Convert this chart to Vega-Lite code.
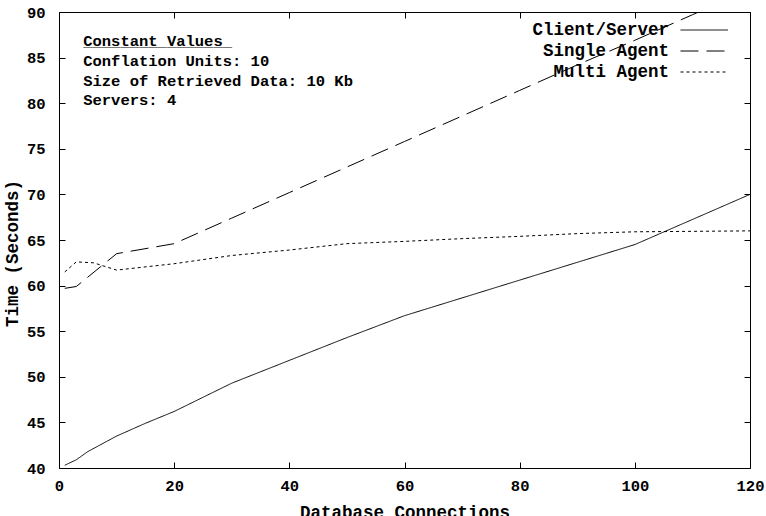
{
  "$schema": "https://vega.github.io/schema/vega-lite/v6.json",
  "width": 691,
  "height": 456,
  "autosize": "none",
  "padding": {"left": 59, "top": 12, "right": 16, "bottom": 48},
  "background": "white",
  "config": {
    "view": {"stroke": "black", "strokeWidth": 1},
    "font": "Liberation Mono",
    "axis": {
      "domain": false,
      "ticks": false,
      "zindex": 1,
      "labelFont": "Liberation Mono",
      "labelFontWeight": "bold",
      "labelFontSize": 15.5,
      "labelColor": "black",
      "labelFlush": false,
      "titleFont": "Liberation Mono",
      "titleFontWeight": "bold",
      "titleFontSize": 17.5,
      "titleColor": "black"
    }
  },
  "datasets": {
    "series": [
      {"series": "Client/Server", "x": 1, "y": 40.3},
      {"series": "Client/Server", "x": 3, "y": 40.9},
      {"series": "Client/Server", "x": 5, "y": 41.8},
      {"series": "Client/Server", "x": 10, "y": 43.5},
      {"series": "Client/Server", "x": 15, "y": 44.9},
      {"series": "Client/Server", "x": 20, "y": 46.2},
      {"series": "Client/Server", "x": 30, "y": 49.3},
      {"series": "Client/Server", "x": 40, "y": 51.8},
      {"series": "Client/Server", "x": 50, "y": 54.3},
      {"series": "Client/Server", "x": 60, "y": 56.7},
      {"series": "Client/Server", "x": 80, "y": 60.6},
      {"series": "Client/Server", "x": 100, "y": 64.5},
      {"series": "Client/Server", "x": 120, "y": 70.0},
      {"series": "Single Agent", "x": 1, "y": 59.7},
      {"series": "Single Agent", "x": 3, "y": 59.9},
      {"series": "Single Agent", "x": 10, "y": 63.5},
      {"series": "Single Agent", "x": 20, "y": 64.6},
      {"series": "Single Agent", "x": 30, "y": 67.4},
      {"series": "Single Agent", "x": 40, "y": 70.2},
      {"series": "Single Agent", "x": 50, "y": 73.0},
      {"series": "Single Agent", "x": 60, "y": 75.8},
      {"series": "Single Agent", "x": 70, "y": 78.6},
      {"series": "Single Agent", "x": 80, "y": 81.4},
      {"series": "Single Agent", "x": 90, "y": 84.2},
      {"series": "Single Agent", "x": 100, "y": 86.9},
      {"series": "Single Agent", "x": 110, "y": 89.7},
      {"series": "Single Agent", "x": 120, "y": 92.5},
      {"series": "Multi Agent", "x": 1, "y": 61.5},
      {"series": "Multi Agent", "x": 3, "y": 62.6},
      {"series": "Multi Agent", "x": 6, "y": 62.5},
      {"series": "Multi Agent", "x": 10, "y": 61.7},
      {"series": "Multi Agent", "x": 20, "y": 62.4},
      {"series": "Multi Agent", "x": 30, "y": 63.3},
      {"series": "Multi Agent", "x": 40, "y": 63.9},
      {"series": "Multi Agent", "x": 50, "y": 64.6},
      {"series": "Multi Agent", "x": 60, "y": 64.85},
      {"series": "Multi Agent", "x": 70, "y": 65.15},
      {"series": "Multi Agent", "x": 80, "y": 65.4},
      {"series": "Multi Agent", "x": 90, "y": 65.7},
      {"series": "Multi Agent", "x": 100, "y": 65.9},
      {"series": "Multi Agent", "x": 120, "y": 66.0}
    ],
    "notes": [
      {"label": "Constant Values", "x": 4.2, "y": 86.8},
      {"label": "________________", "x": 4.2, "y": 86.8},
      {"label": "Conflation Units: 10", "x": 4.2, "y": 84.6},
      {"label": "Size of Retrieved Data: 10 Kb", "x": 4.2, "y": 82.4},
      {"label": "Servers: 4", "x": 4.2, "y": 80.3}
    ]
  },
  "layer": [
    {
      "data": {"name": "series"},
      "mark": {"type": "line", "clip": true, "color": "black", "strokeWidth": 1},
      "encoding": {
        "x": {
          "field": "x", "type": "quantitative",
          "scale": {"domain": [0, 120], "nice": false, "zero": false},
          "axis": {
            "orient": "bottom",
            "values": [0, 20, 40, 60, 80, 100, 120],
            "grid": true, "gridColor": "black", "gridOpacity": 1, "gridWidth": 1, "gridDash": [6, 444, 6],
            "labelPadding": 10,
            "title": "Database Connections", "titlePadding": 10
          }
        },
        "y": {
          "field": "y", "type": "quantitative",
          "scale": {"domain": [40, 90], "nice": false, "zero": false},
          "axis": {
            "orient": "left",
            "values": [40, 45, 50, 55, 60, 65, 70, 75, 80, 85, 90],
            "grid": true, "gridColor": "black", "gridOpacity": 1, "gridWidth": 1, "gridDash": [6, 679, 6],
            "labelPadding": 14,
            "title": "Time (Seconds)", "titlePadding": 5, "titleY": 241
          }
        },
        "strokeDash": {
          "field": "series", "type": "nominal",
          "scale": {"domain": ["Client/Server", "Single Agent", "Multi Agent"], "range": [[1, 0], [18, 8], [3, 3]]},
          "legend": {
            "orient": "none",
            "legendX": 621,
            "legendY": 8,
            "title": null,
            "padding": 0,
            "symbolType": "M-1,0H4",
            "symbolSize": 361,
            "symbolStrokeWidth": 1,
            "symbolStrokeColor": "black",
            "labelAlign": "right",
            "labelOffset": -31,
            "labelFont": "Liberation Mono",
            "labelFontWeight": "bold",
            "labelFontSize": 17.5,
            "labelColor": "black",
            "rowPadding": 2
          }
        }
      }
    },
    {
      "data": {"name": "notes"},
      "mark": {"type": "text", "align": "left", "baseline": "middle", "font": "Liberation Mono", "fontWeight": "bold", "fontSize": 15.5, "color": "black"},
      "encoding": {
        "x": {"field": "x", "type": "quantitative"},
        "y": {"field": "y", "type": "quantitative"},
        "text": {"field": "label"}
      }
    }
  ]
}
